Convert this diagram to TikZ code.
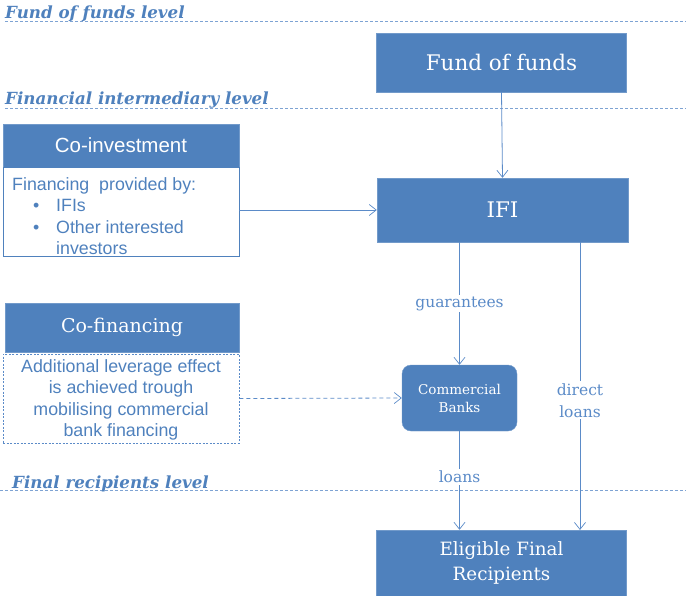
\documentclass[tikz,border=0pt]{standalone}
\usepackage{fontspec}
\setmainfont{DejaVu Serif}
\newfontfamily\sansf{Liberation Sans}
\usetikzlibrary{arrows.meta}
\definecolor{boxblue}{HTML}{4F81BD}
\definecolor{lineblue}{HTML}{5B8BC8}
\definecolor{dashblue}{HTML}{7EA3D3}
\tikzset{
  bluebox/.style={fill=boxblue, draw=boxblue!80!white, text=white, inner sep=0pt},
  levellabel/.style={anchor=base west, text=boxblue, font=\fontsize{16.7}{18}\selectfont\bfseries\itshape, inner sep=0pt},
  levelline/.style={draw=dashblue, dash pattern=on 3pt off 2pt, line width=0.9pt},
  conn/.style={draw=lineblue, line width=0.8pt, -{Straight Barb[length=7pt,width=11pt,line width=0.7pt]}},
  lbl/.style={fill=white, text=lineblue, font=\fontsize{15.5}{22}\selectfont, inner sep=2pt, align=center},
  sansbody/.style={text=boxblue, font=\sansf\fontsize{17.8}{21.5}\selectfont, inner sep=0pt},
}
\begin{document}
\begin{tikzpicture}[x=1pt,y=-1pt]
\useasboundingbox (0,0) rectangle (686,595);
% level lines
\coordinate (l1a) at (5,21); \coordinate (l1b) at (686,21);
\coordinate (l2a) at (5,108); \coordinate (l2b) at (686,108);
\coordinate (l3a) at (0,490); \coordinate (l3b) at (686,490);
\draw[levelline] (l1a) -- (l1b);
\draw[levelline] (l2a) -- (l2b);
\draw[levelline] (l3a) -- (l3b);
\node[levellabel] (t1) at (5,18) {Fund of funds level};
\node[levellabel] (t2) at (5,104) {Financial intermediary level};
\node[levellabel] (t3) at (12,488) {Final recipients level};
% main boxes
\node[bluebox, minimum width=250pt, minimum height=59pt, font=\fontsize{21.5}{24}\selectfont] (fof) at (501.5,62.5) {Fund of funds};
\node[bluebox, minimum width=251pt, minimum height=64pt, font=\fontsize{21.5}{24}\selectfont] (ifi) at (502.5,210) {IFI};
\node[bluebox, rounded corners=9pt, minimum width=115pt, minimum height=66pt, align=center, font=\fontsize{13.5}{18}\selectfont] (cb) at (459.5,398) {Commercial\\Banks};
\node[bluebox, minimum width=250pt, minimum height=66pt, align=center, font=\fontsize{18.3}{25}\selectfont] (efr) at (501.5,563) {Eligible Final\\Recipients};
% co-investment
\node[bluebox, minimum width=236pt, minimum height=43pt, font=\sansf\fontsize{20.5}{22}\selectfont] (coih) at (121,145.5) {Co-investment};
\node[draw=boxblue, line width=0.8pt, minimum width=236pt, minimum height=89pt, inner sep=0pt] (coib) at (121,211.5) {};
\node[sansbody, anchor=base west] (coit1) at (12,190) {Financing\ \ provided by:};
\node[sansbody, anchor=base west] (coibul1) at (33,211) {•};
\node[sansbody, anchor=base west] (coit2) at (56,211) {IFIs};
\node[sansbody, anchor=base west] (coibul2) at (33,233) {•};
\node[sansbody, anchor=base west] (coit3) at (56,233) {Other interested};
\node[sansbody, anchor=base west] (coit4) at (56,254) {investors};
% co-financing
\node[bluebox, minimum width=234pt, minimum height=49pt, font=\fontsize{19}{21}\selectfont] (cofh) at (122,327.5) {Co-financing};
\node[draw=lineblue, line width=0.7pt, dash pattern=on 2pt off 1.5pt, minimum width=236pt, minimum height=89pt, inner sep=0pt] (cofb) at (121,398.5) {};
\node[sansbody, align=center] (coft) at (121,400) {Additional leverage effect\\is achieved trough\\mobilising commercial\\bank financing};
% connectors
\draw[conn] (fof.south) -- (ifi.north);
\draw[conn] (coib.east |- ifi.west) -- (ifi.west);
\draw[conn, dash pattern=on 4pt off 3pt] (cofb.east) -- (cb.west);
\draw[conn] (ifi.south -| cb.north) -- node[lbl] (lg) {guarantees} (cb.north);
\coordinate (dl1) at (580,242);
\coordinate (dl2) at (580,530);
\draw[conn] (dl1) -- node[lbl, pos=0.55] (ldl) {direct\\loans} (dl2);
\draw[conn] (cb.south) -- node[lbl, pos=0.46] (ll) {loans} (cb.south |- efr.north);
\end{tikzpicture}
\end{document}
